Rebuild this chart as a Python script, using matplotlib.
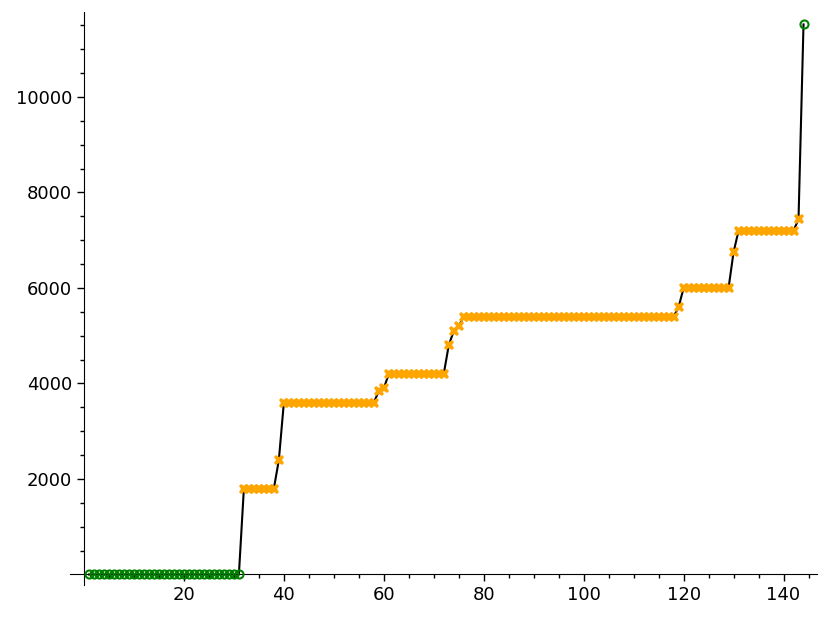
import numpy as np
import matplotlib.pyplot as plt

# values, index n = 1..144
n_vals = list(range(1, 145))
values = [
    0, 0, 0, 0, 0, 0, 0, 0, 0, 0, 0, 0, 0, 0, 0, 0, 0, 0, 0, 0,
    0, 0, 0, 0, 0, 0, 0, 0, 0, 0, 0,
    1800, 1800, 1800, 1800, 1800, 1800, 1800,
    2400,
    3600, 3600, 3600, 3600, 3600, 3600, 3600, 3600, 3600, 3600,
    3600, 3600, 3600, 3600, 3600, 3600, 3600, 3600, 3600,
    3840, 3900,
    4200, 4200, 4200, 4200, 4200, 4200, 4200, 4200, 4200, 4200, 4200, 4200,
    4800, 5100, 5200,
    5400, 5400, 5400, 5400, 5400, 5400, 5400, 5400, 5400, 5400,
    5400, 5400, 5400, 5400, 5400, 5400, 5400, 5400, 5400, 5400,
    5400, 5400, 5400, 5400, 5400, 5400, 5400, 5400, 5400, 5400,
    5400, 5400, 5400, 5400, 5400, 5400, 5400, 5400, 5400, 5400,
    5400, 5400, 5400,
    5600,
    6000, 6000, 6000, 6000, 6000, 6000, 6000, 6000, 6000, 6000,
    6750,
    7200, 7200, 7200, 7200, 7200, 7200, 7200, 7200, 7200, 7200, 7200, 7200,
    7440,
    11520,
]
# which points get the green circle (rest are orange crosses)
green_pts = list(range(1, 32)) + [144]

x = np.array(n_vals)
y = np.array(values)
is_green = np.isin(x, green_pts)

fig = plt.figure(figsize=(8.31, 6.19), dpi=100)
ax = fig.add_axes([70 / 831, 34 / 619, 747 / 831, 573 / 619])

ax.plot(x, y, color='black', linewidth=1.5, zorder=2)
ax.plot(x[~is_green], y[~is_green], 'X', color='orange', markersize=7.5,
        markeredgewidth=0, zorder=3)
ax.plot(x[is_green], y[is_green], 'o', markerfacecolor='none',
        markeredgecolor='green', markersize=5.8, markeredgewidth=1.5, zorder=4)

ax.set_xlim(-2.8, 146.7)
ax.set_ylim(-220, 11780)

ax.spines['left'].set_position(('data', 0))
ax.spines['bottom'].set_position(('data', 0))
ax.spines['top'].set_visible(False)
ax.spines['right'].set_visible(False)

ax.set_xticks([20, 40, 60, 80, 100, 120, 140])
ax.set_xticks(np.arange(5, 146, 5), minor=True)
ax.set_yticks([2000, 4000, 6000, 8000, 10000])
ax.set_yticks(np.arange(500, 11600, 500), minor=True)
ax.tick_params(axis='both', which='major', labelsize=13, length=5, width=1)
ax.tick_params(axis='both', which='minor', length=3, width=1)

plt.savefig('out.png', dpi=100)
